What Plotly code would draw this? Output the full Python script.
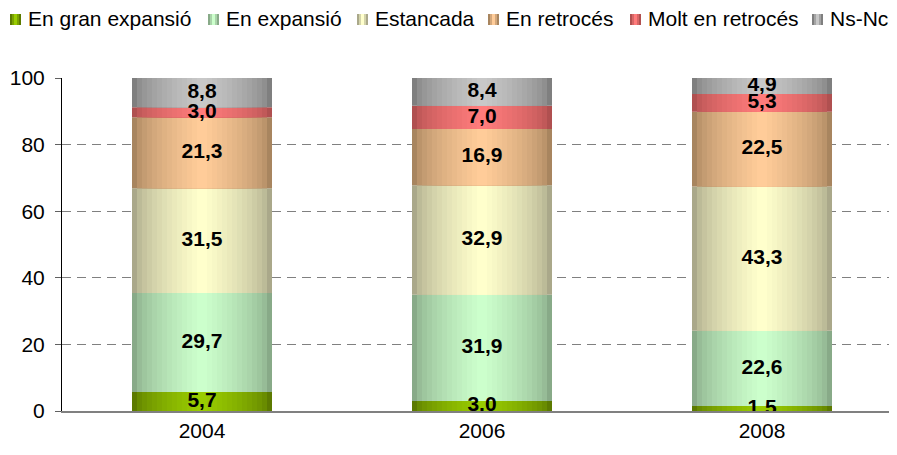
import plotly.graph_objects as go

years = ["2004", "2006", "2008"]
series_names = ["En gran expansió", "En expansió", "Estancada", "En retrocés", "Molt en retrocés", "Ns-Nc"]
gran_expansio = [5.7, 3.0, 1.5]
expansio = [29.7, 31.9, 22.6]
estancada = [31.5, 32.9, 43.3]
retroces = [21.3, 16.9, 22.5]
molt_retroces = [3.0, 7.0, 5.3]
nsnc = [8.8, 8.4, 4.9]
y_ticks = [0, 20, 40, 60, 80, 100]

series_values = [gran_expansio, expansio, estancada, retroces, molt_retroces, nsnc]
edge_colors = [(0x5c, 0x7a, 0x00), (0x88, 0xaa, 0x88), (0xaa, 0xa8, 0x8a), (0xa8, 0x85, 0x5f), (0xb0, 0x50, 0x50), (0x7f, 0x7f, 0x7f)]
center_colors = [(0x99, 0xcc, 0x00), (0xcc, 0xff, 0xcc), (0xff, 0xff, 0xcc), (0xff, 0xcc, 0x99), (0xff, 0x7b, 0x7b), (0xc8, 0xc8, 0xc8)]

FONT = "Liberation Sans, Arial, sans-serif"
FS = 21
BAR_W = 0.5
N_LAYERS = 14

OFF = 8  # default page body margin
W, H = 897 - OFF, 455 - OFF
ML, MR, MT, MB = 62 - OFF, 0, 78 - OFF, 44
PW = W - ML - MR
PH = H - MT - MB

def rgb(t_col):
    return "rgb(%d,%d,%d)" % t_col

def mix(e, c, t):
    return tuple(round(e[i] + (c[i] - e[i]) * t) for i in range(3))

fig = go.Figure()
bases = [0.0] * len(years)
label_x, label_y, label_t = [], [], []
for s, (name, vals) in enumerate(zip(series_names, series_values)):
    e, c = edge_colors[s], center_colors[s]
    for k in range(N_LAYERS):
        t = (k / (N_LAYERS - 1)) ** 0.6
        w = BAR_W * (1 - k / N_LAYERS)
        fig.add_trace(go.Bar(
            x=years, y=vals, base=bases, width=[w] * len(years),
            name=name, showlegend=False,
            marker=dict(color=rgb(mix(e, c, t)), line=dict(width=0)), hoverinfo="skip",
        ))
    for j, v in enumerate(vals):
        label_x.append(years[j])
        label_y.append(bases[j] + v / 2)
        label_t.append(f"{v:.1f}".replace(".", ","))
    bases = [b + v for b, v in zip(bases, vals)]

fig.add_trace(go.Scatter(
    x=label_x, y=label_y, text=label_t, mode="text", showlegend=False,
    textfont=dict(family=FONT, size=FS, color="black", weight="bold"),
    hoverinfo="skip",
))

# manual legend (page-pixel layout converted to paper coordinates)
legend_marker_px = [10, 208, 357, 488, 630, 812]
shapes, annotations = [], []
def px_x(p):
    return (p - OFF - ML) / PW
def px_y(p):
    return 1 - (p - OFF - MT) / PH
for s, name in enumerate(series_names):
    x0 = legend_marker_px[s]
    e, c = edge_colors[s], center_colors[s]
    for inset, t in [(0, 0.0), (2, 0.5), (4, 1.0)]:
        shapes.append(dict(type="rect", xref="paper", yref="paper",
                           x0=px_x(x0 + inset), x1=px_x(x0 + 11 - inset),
                           y0=px_y(25), y1=px_y(14),
                           fillcolor=rgb(mix(e, c, t)), line=dict(width=0), layer="above"))
    annotations.append(dict(text=name, xref="paper", yref="paper", x=px_x(x0 + 18), y=px_y(18),
                            xanchor="left", yanchor="middle", showarrow=False,
                            borderpad=0, borderwidth=0,
                            font=dict(family=FONT, size=FS, color="black")))

fig.update_layout(
    width=W, height=H,
    barmode="overlay",
    paper_bgcolor="white", plot_bgcolor="white",
    margin=dict(l=ML, r=MR, t=MT, b=MB, autoexpand=False),
    font=dict(family=FONT, size=FS, color="black"),
    showlegend=False,
    shapes=shapes, annotations=annotations,
)
fig.update_xaxes(
    type="category", range=[-0.5, -0.5 + PW / 280], showgrid=False, automargin=False,
    showline=True, linecolor="#808080", linewidth=2, ticks="", tickfont=dict(size=FS),
)
fig.update_yaxes(
    range=[0, 100], tickvals=y_ticks, showgrid=True, gridcolor="#808080", griddash="9px,6px", gridwidth=1,
    showline=True, linecolor="black", linewidth=1, ticks="outside", ticklen=6, tickcolor="#606060",
    tickfont=dict(size=FS), zeroline=False, automargin=False, ticklabelstandoff=6,
)

fig.write_html("out.html")
